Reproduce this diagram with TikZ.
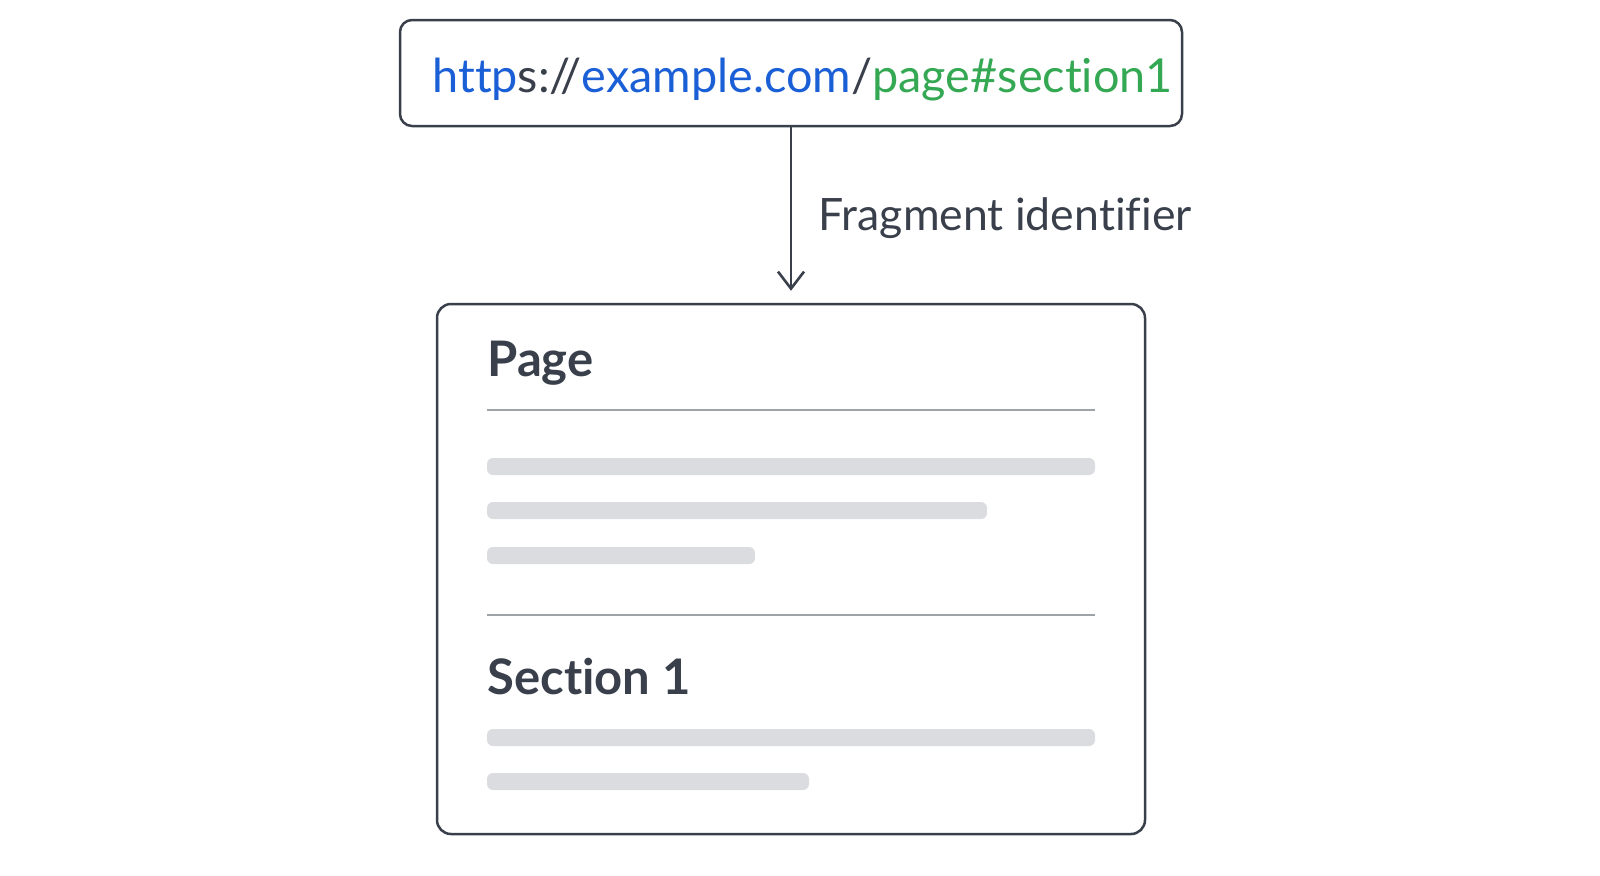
\documentclass[tikz,border=0pt]{standalone}
\usepackage{fontspec}
\setmainfont{Lato}[RawFeature={-liga;-dlig;-clig}]
\usetikzlibrary{positioning,arrows.meta}
\definecolor{ink}{HTML}{3A404B}
\definecolor{urlblue}{HTML}{1A5FD6}
\definecolor{urlgreen}{HTML}{34A853}
\definecolor{rulegray}{HTML}{9EA3A9}
\definecolor{bargray}{HTML}{DADCDF}

\begin{document}
\begin{tikzpicture}[x=0.5pt,y=-0.5pt,
    box/.style={draw=ink, line width=1.25pt, rounded corners=6pt, inner sep=0pt},
    bar/.style={fill=bargray, rounded corners=3pt},
    sep/.style={draw=rulegray, line width=1.2pt}]
   \useasboundingbox (0,0) rectangle (1600,875);
   % address bar
   \node[box, minimum width=391pt, minimum height=53pt] (url) at (791,73) {};
   \node[anchor=base west, inner sep=0pt, font=\fontsize{23.4}{23.4}\selectfont] (addr) at (432,92)
     {\textcolor{urlblue}{http}\textcolor{ink}{s://}\textcolor{urlblue}{example.com}\textcolor{ink}{/}\textcolor{urlgreen}{page\#section1}};
   % the page
   \node[box, rounded corners=7pt, minimum width=354pt, minimum height=265pt] (page) at (791,569) {};
   \draw[ink, line width=1.3pt, -{Straight Barb[length=8.5pt,width=13pt]}, shorten >=6pt] (url) -- (page);
   \node[anchor=base west, inner sep=0pt, text=ink, font=\fontsize{22.3}{22.3}\selectfont] (frag) at (818,230) {Fragment identifier};
   \node[anchor=base west, inner sep=0pt, text=ink, font=\fontsize{24.5}{24.5}\selectfont\bfseries] (ptitle) at (487,376) {Page};
   \node[anchor=base west, inner sep=0pt, text=ink, font=\fontsize{24.5}{24.5}\selectfont\bfseries] (stitle) at (487,694) {Section 1};
   \draw[sep] (487,410) -- (1095,410);
   \draw[sep] (487,615) -- (1095,615);
   \foreach \y/\xe in {458/1095, 502/987, 547/755, 729/1095, 773/809}
     \fill[bar] (487,\y) rectangle (\xe,\y+17);
\end{tikzpicture}
\end{document}
